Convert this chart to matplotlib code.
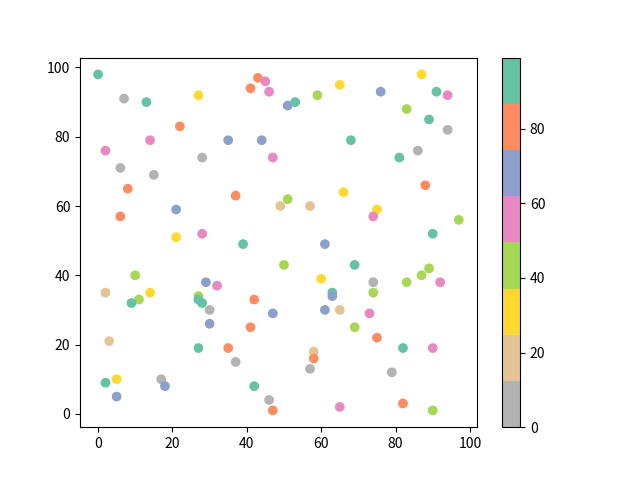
import matplotlib
matplotlib.use("Agg")
import matplotlib.pyplot as plt
import numpy as np

plt.rcParams['font.family'] = ['Noto Sans CJK SC', 'DejaVu Sans']

# color class values (bins of Set2_r over 0..99)
GRAY, TAN, YELLOW, GREEN, PINK, BLUE, ORANGE, TEAL = 6, 18, 31, 43, 56, 68, 80, 93

x = [0, 7, 13, 27, 43, 45, 41, 46, 22, 14, 35, 44, 2, 28, 47, 6, 15, 8, 37, 49,
     21, 6, 21, 28, 39, 51, 53, 59, 65, 76, 87, 91, 94, 83, 89, 94, 68, 81, 86, 88,
     66, 51, 57, 75, 74, 97, 90, 61, 10, 2, 14, 11, 9, 29, 32, 27, 27, 28, 30, 30,
     42, 47, 41, 3, 27, 35, 37, 2, 5, 17, 18, 5, 42, 46, 47, 50, 69, 60, 74, 74,
     83, 87, 89, 92, 63, 63, 61, 65, 73, 69, 75, 82, 90, 58, 58, 57, 79, 65, 82, 90]
y = [98, 91, 90, 92, 97, 96, 94, 93, 83, 79, 79, 79, 76, 74, 74, 71, 69, 65, 63, 60,
     59, 57, 51, 52, 49, 89, 90, 92, 95, 93, 98, 93, 92, 88, 85, 82, 79, 74, 76, 66,
     64, 62, 60, 59, 57, 56, 52, 49, 40, 35, 35, 33, 32, 38, 37, 34, 33, 32, 30, 26,
     33, 29, 25, 21, 19, 19, 15, 9, 10, 10, 8, 5, 8, 4, 1, 43, 43, 39, 38, 35,
     38, 40, 42, 38, 35, 34, 30, 30, 29, 25, 22, 19, 19, 18, 16, 13, 12, 2, 3, 1]
c = [TEAL, GRAY, TEAL, YELLOW, ORANGE, PINK, ORANGE, PINK, ORANGE, PINK,
     BLUE, BLUE, PINK, GRAY, PINK, GRAY, GRAY, ORANGE, ORANGE, TAN,
     BLUE, ORANGE, YELLOW, PINK, TEAL, BLUE, TEAL, GREEN, YELLOW, BLUE,
     YELLOW, TEAL, PINK, GREEN, TEAL, GRAY, TEAL, TEAL, GRAY, ORANGE,
     YELLOW, GREEN, TAN, YELLOW, PINK, GREEN, TEAL, BLUE, GREEN, TAN,
     YELLOW, GREEN, TEAL, BLUE, PINK, GREEN, TEAL, TEAL, GRAY, BLUE,
     ORANGE, BLUE, ORANGE, TAN, TEAL, ORANGE, GRAY, TEAL, YELLOW, GRAY,
     BLUE, BLUE, TEAL, GRAY, ORANGE, GREEN, TEAL, YELLOW, GRAY, GREEN,
     GREEN, GREEN, GREEN, PINK, TEAL, BLUE, BLUE, TAN, PINK, GREEN,
     ORANGE, TEAL, PINK, TAN, ORANGE, GRAY, GRAY, PINK, ORANGE, GREEN]

fig, ax = plt.subplots(figsize=(6.4, 4.8), dpi=100)
sc = ax.scatter(x, y, c=c, cmap='Set2_r', vmin=0, vmax=99)
fig.colorbar(sc, ax=ax)
fig.savefig("out.png")
